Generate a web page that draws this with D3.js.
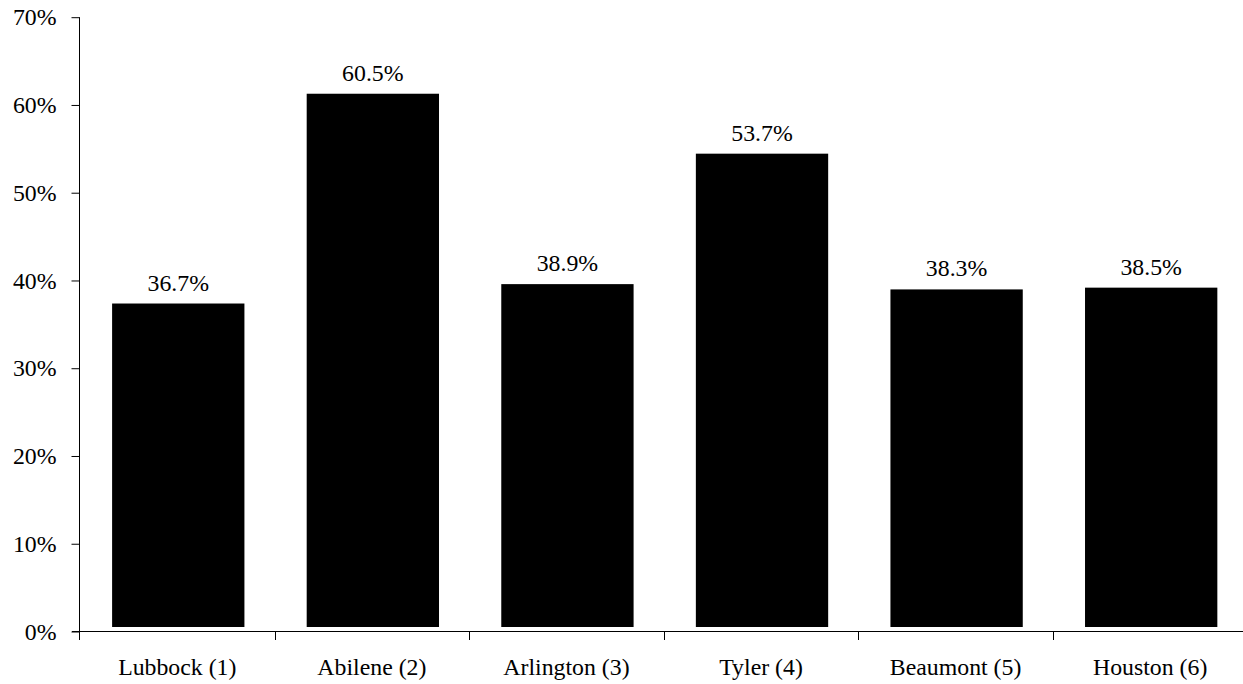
<!DOCTYPE html>
<html>
<head>
<meta charset="utf-8">
<script src="https://cdn.jsdelivr.net/npm/d3@7"></script>
<style>
  html, body { margin: 0; padding: 0; background: #fff; }
  svg text { font-family: "Times New Roman", "Liberation Serif", "DejaVu Serif", "Noto Serif", Times, serif !important; fill: #000; }
</style>
</head>
<body>
<svg id="chart" width="1243" height="684"></svg>
<script>
const categories = ["Lubbock (1)", "Abilene (2)", "Arlington (3)", "Tyler (4)", "Beaumont (5)", "Houston (6)"];
const values = [36.7, 60.5, 38.9, 53.7, 38.3, 38.5];
const valueLabels = ["36.7%", "60.5%", "38.9%", "53.7%", "38.3%", "38.5%"];
const yTicks = [0, 10, 20, 30, 40, 50, 60, 70];
const yTickLabels = ["0%", "10%", "20%", "30%", "40%", "50%", "60%", "70%"];

const svg = d3.select("#chart");
const fontSize = 23.8;
const fontStack = "'Times New Roman', 'Liberation Serif', 'DejaVu Serif', serif";

const x = d3.scaleBand().domain(categories).range([80, 1247.5]).padding(0);
const y = d3.scaleLinear().domain([0, 70]).range([631.5, 17.2]);
const yBar = d3.scaleLinear().domain([0, 70]).range([627, 10]);

// bars
svg.append("g").selectAll("rect")
  .data(values)
  .join("rect")
  .attr("x", (d, i) => x(categories[i]) + x.bandwidth() * 0.165)
  .attr("width", x.bandwidth() * 0.68)
  .attr("y", d => yBar(d))
  .attr("height", d => yBar(0) - yBar(d))
  .attr("fill", "#000");

// value labels
svg.append("g").selectAll("text")
  .data(values)
  .join("text")
  .attr("x", (d, i) => x(categories[i]) + x.bandwidth() * 0.505)
  .attr("y", d => yBar(d) - 13)
  .attr("text-anchor", "middle")
  .attr("font-size", fontSize)
  .style("font-family", fontStack)
  .text((d, i) => valueLabels[i]);

// y axis
const yAxis = d3.axisLeft(y)
  .tickValues(yTicks)
  .tickFormat((d, i) => yTickLabels[i])
  .tickSize(8)
  .tickPadding(15);
const gy = svg.append("g").attr("transform", "translate(79.5,0)").call(yAxis);
gy.attr("font-family", null).attr("font-size", null);
gy.select(".domain").remove();
gy.selectAll(".tick line").attr("stroke", "#000");
gy.selectAll(".tick text").attr("font-size", fontSize).style("font-family", fontStack);
gy.append("line").attr("x1", 0).attr("x2", 0).attr("y1", y(70)).attr("y2", 640).attr("stroke", "#000");

// x axis
const gx = svg.append("g").attr("transform", "translate(0," + y(0) + ")");
gx.append("line").attr("x1", 72).attr("x2", 1243).attr("y1", 0).attr("y2", 0).attr("stroke", "#000");
const boundaries = categories.map(c => x(c)).slice(1);
gx.selectAll("line.tk")
  .data(boundaries)
  .join("line")
  .attr("class", "tk")
  .attr("x1", d => Math.round(d) + 0.5)
  .attr("x2", d => Math.round(d) + 0.5)
  .attr("y1", 0)
  .attr("y2", 8.5)
  .attr("stroke", "#000");
gx.selectAll("text")
  .data(categories)
  .join("text")
  .attr("x", d => x(d) + x.bandwidth() / 2)
  .attr("y", 43.5)
  .attr("text-anchor", "middle")
  .attr("font-size", fontSize)
  .style("font-family", fontStack)
  .text(d => d);
</script>
</body>
</html>
